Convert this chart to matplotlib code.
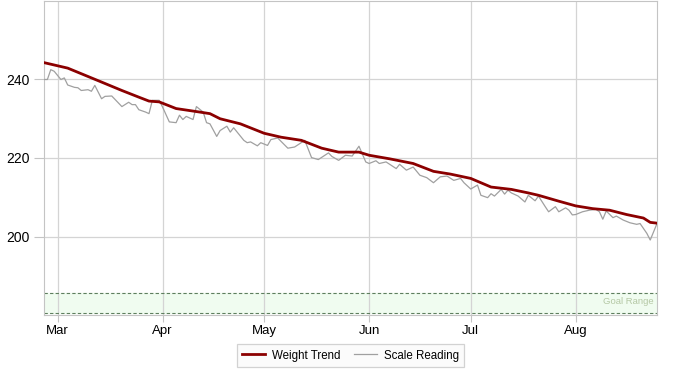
import pandas as pd
import numpy as np
import matplotlib
matplotlib.use("Agg")
import matplotlib.pyplot as plt
import matplotlib.dates as mdates

plt.rcParams['font.family'] = ['Liberation Sans', 'DejaVu Sans']

# scale readings
scale_dates = ["02-25", "02-26", "02-27", "02-28", "03-02", "03-03", "03-04", "03-06",
               "03-07", "03-08", "03-10", "03-11", "03-12", "03-14", "03-15", "03-17",
               "03-19", "03-20", "03-22", "03-23", "03-24", "03-25", "03-27", "03-28",
               "03-29", "03-31", "04-01", "04-03", "04-05", "04-06", "04-07", "04-08",
               "04-10", "04-11", "04-13", "04-14", "04-15", "04-17", "04-18", "04-20",
               "04-21", "04-22", "04-25", "04-26", "04-27", "04-29", "04-30", "05-02",
               "05-03", "05-05", "05-08", "05-10", "05-13", "05-15", "05-17", "05-20",
               "05-21", "05-23", "05-25", "05-27", "05-29", "05-31", "06-01", "06-03",
               "06-04", "06-06", "06-09", "06-10", "06-12", "06-14", "06-16", "06-18",
               "06-20", "06-22", "06-24", "06-26", "06-28", "06-29", "07-01", "07-03",
               "07-04", "07-06", "07-07", "07-08", "07-10", "07-11", "07-12", "07-13",
               "07-15", "07-17", "07-18", "07-20", "07-21", "07-23", "07-24", "07-26",
               "07-27", "07-29", "07-30", "07-31", "08-01", "08-03", "08-05", "08-07",
               "08-08", "08-09", "08-10", "08-12", "08-13", "08-15", "08-17", "08-19",
               "08-20", "08-22", "08-23", "08-25"]
scale_values = [240.0, 240.0, 242.5, 242.1, 240.0, 240.4, 238.6, 238.0,
                237.9, 237.2, 237.4, 237.0, 238.5, 235.1, 235.7, 235.8,
                234.0, 233.1, 234.2, 233.6, 233.6, 232.3, 231.7, 231.3,
                234.7, 234.7, 233.0, 229.2, 229.0, 230.9, 229.8, 230.6,
                229.8, 233.1, 231.7, 229.0, 228.7, 225.5, 227.0, 228.1,
                226.6, 227.7, 224.5, 223.9, 224.1, 223.1, 223.9, 223.2,
                224.7, 225.1, 222.5, 222.8, 224.5, 220.1, 219.6, 221.3,
                220.4, 219.4, 220.7, 220.5, 223.0, 219.0, 218.6, 219.3,
                218.6, 219.0, 217.3, 218.4, 216.9, 217.7, 215.6, 215.0,
                213.7, 215.2, 215.4, 214.3, 214.8, 213.7, 212.1, 213.1,
                210.5, 209.9, 210.9, 210.3, 212.0, 210.8, 211.8, 211.1,
                210.3, 208.8, 210.5, 209.1, 210.3, 207.6, 206.3, 207.6,
                206.3, 207.3, 206.7, 205.5, 205.6, 206.3, 206.7, 206.9,
                206.3, 204.4, 206.5, 204.8, 205.2, 204.2, 203.5, 203.1,
                203.3, 200.8, 199.1, 203.3]

# weight trend
trend_dates = ["02-25", "03-04", "03-13", "03-20", "03-25", "03-28", "03-31", "04-05",
               "04-12", "04-15", "04-18", "04-24", "05-01", "05-06", "05-12", "05-18",
               "05-23", "05-29", "06-01", "06-07", "06-14", "06-20", "06-25", "07-01",
               "07-07", "07-13", "07-18", "07-21", "07-27", "08-01", "08-06", "08-11",
               "08-16", "08-21", "08-23", "08-25"]
trend_values = [244.3, 242.9, 239.7, 237.2, 235.5, 234.5, 234.3, 232.6,
                231.7, 231.3, 230.0, 228.7, 226.3, 225.3, 224.5, 222.5,
                221.5, 221.5, 220.7, 219.8, 218.6, 216.6, 215.9, 214.8,
                212.6, 212.0, 211.1, 210.5, 209.0, 207.8, 207.1, 206.7,
                205.6, 204.7, 203.6, 203.4]

goal_low, goal_high = 180.5, 185.5
year = "2011-"

sd = pd.to_datetime([year + d for d in scale_dates])
td = pd.to_datetime([year + d for d in trend_dates])

fig = plt.figure(figsize=(7, 3.8), dpi=100)
ax = fig.add_axes([44 / 700, 65 / 380, 613 / 700, 314 / 380])

grid_c = '#d4d4d4'
ax.axhspan(goal_low, goal_high, color='#f0fcf0', zorder=0)
ax.axhline(goal_low, color='#5e7e5e', lw=0.8, ls=(0, (3, 2)), zorder=1)
ax.axhline(goal_high, color='#5e7e5e', lw=0.8, ls=(0, (3, 2)), zorder=1)

ax.plot(sd, scale_values, color='#a0a0a0', lw=0.9, label='Scale Reading', zorder=3)
ax.plot(td, trend_values, color='#8b0000', lw=2.0, label='Weight Trend', zorder=4)

ax.set_xlim(pd.Timestamp(year + "02-25"), pd.Timestamp(year + "08-25"))
ax.set_ylim(180, 260)
ax.set_yticks([200, 220, 240])
ax.xaxis.set_major_locator(mdates.MonthLocator())
ax.xaxis.set_major_formatter(mdates.DateFormatter('%b'))
ax.grid(True, color=grid_c, lw=0.9, zorder=0)
ax.set_axisbelow(True)
for s in ax.spines.values():
    s.set_color('#c4c4c4')
ax.tick_params(axis='y', length=7, color='#c4c4c4', labelsize=10, pad=3)
ax.tick_params(axis='x', length=5, color='#c4c4c4', labelsize=9.5, pad=2)

ax.text(0.994, (183.4 - 180) / 80, 'Goal Range', transform=ax.transAxes,
        ha='right', va='center', fontsize=6.8, color='#b5c8a5')

h, l = ax.get_legend_handles_labels()
leg = ax.legend(h[::-1], l[::-1], loc='upper center', bbox_to_anchor=(0.5, -0.075),
                ncol=2, fontsize=8.3, frameon=True, fancybox=False,
                handlelength=2.0, handletextpad=0.6, columnspacing=1.2,
                borderpad=0.45)
leg.get_frame().set_edgecolor('#c8c8c8')
leg.get_frame().set_facecolor('#fafafa')
leg.get_frame().set_linewidth(0.9)

plt.savefig('out.png', dpi=100)
